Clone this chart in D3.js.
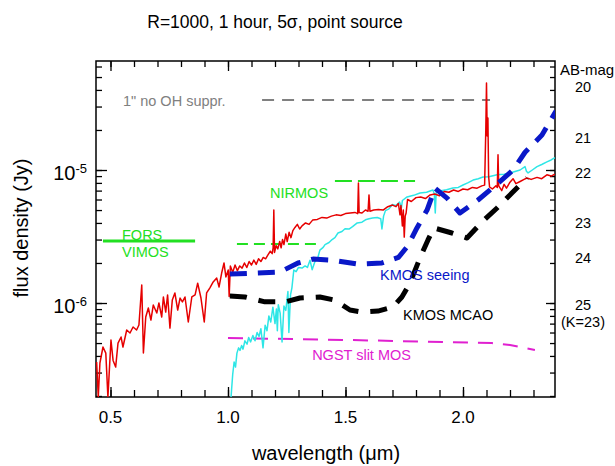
<!DOCTYPE html>
<meta charset="utf-8">
<style>
  body { margin: 0; background: #fff; }
  text { font-family: "Liberation Sans", Arial, sans-serif; }
</style>
<div id="chart"></div>
<script src="https://d3js.org/d3.v7.min.js"></script>
<script>
// fluxes in the series below are in micro-Jansky
const UJY = 1e-6;

const xTickLabels = [0.5, 1.0, 1.5, 2.0];
const yTickLabels = [1e-6, 1e-5];
const abMagLabels = ["20", "21", "22", "23", "24", "25"];
const abMagFlux = [42, 17.4, 9.5, 4.0, 2.18, 0.97];

// [wavelength (um), flux (uJy)]
const redSpec = [
  [0.441,0.36],[0.448,0.197],[0.455,0.354],[0.468,0.467],[0.480,0.42],[0.489,0.196],[0.502,0.527],
  [0.511,0.37],[0.522,0.33],[0.532,0.50],[0.545,0.555],[0.553,0.467],[0.569,0.627],[0.583,0.595],
  [0.596,0.66],[0.611,0.627],[0.621,0.683],[0.633,1.366],[0.640,0.421],[0.650,0.785],[0.661,0.917],
  [0.672,0.745],[0.682,0.966],[0.697,0.841],[0.706,1.0],[0.718,0.785],[0.725,1.11],[0.735,0.855],
  [0.743,1.15],[0.753,0.648],[0.763,1.053],[0.774,1.19],[0.786,0.886],[0.796,1.09],[0.806,1.02],
  [0.817,1.11],[0.831,0.72],[0.846,1.11],[0.860,1.15],[0.871,1.41],[0.885,1.09],[0.899,0.72],
  [0.909,1.19],[0.923,1.30],[0.937,1.44],[0.952,1.54],[0.962,1.32],[0.973,1.68],[0.983,2.0],
  [0.991,1.57],[1.001,1.77],[1.005,1.12],[1.010,1.90],[1.020,1.70],[1.030,1.93],[1.040,1.75],
  [1.050,1.90],[1.060,1.83],[1.070,2.0],[1.080,1.85],[1.090,2.05],[1.100,1.93],[1.110,2.10],
  [1.120,1.95],[1.130,2.15],[1.140,2.05],[1.150,2.2],[1.160,2.15],[1.170,2.3],[1.180,2.45],
  [1.188,2.35],[1.192,2.6],[1.195,5.0],[1.198,2.4],[1.205,2.7],[1.212,2.55],[1.220,2.9],
  [1.226,2.6],[1.232,3.0],[1.238,2.75],[1.246,3.3],[1.252,2.9],[1.260,3.4],[1.268,3.1],
  [1.276,3.5],[1.285,3.7],[1.295,3.9],[1.305,3.6],[1.315,3.8],[1.330,4.0],[1.345,3.9],
  [1.360,4.2],[1.380,4.25],[1.400,4.4],[1.420,4.35],[1.440,4.5],[1.460,4.6],[1.480,4.55],
  [1.500,4.7],[1.520,4.75],[1.540,4.8],[1.552,4.7],[1.555,8.0],[1.558,4.8],[1.570,4.75],
  [1.585,5.0],[1.596,4.9],[1.600,6.5],[1.604,4.9],[1.620,5.0],[1.640,5.05],[1.660,5.0],
  [1.680,5.3],[1.700,5.45],[1.715,5.3],[1.725,5.6],[1.732,4.6],[1.736,5.4],[1.742,3.8],
  [1.746,5.0],[1.750,3.13],[1.754,4.5],[1.758,4.75],[1.764,6.0],[1.780,5.8],[1.800,6.2],
  [1.820,6.27],[1.840,6.1],[1.860,6.5],[1.880,6.6],[1.900,6.4],[1.920,6.9],[1.940,6.8],
  [1.960,7.07],[1.980,6.9],[2.000,7.2],[2.020,7.1],[2.040,7.4],[2.060,7.3],[2.080,7.6],
  [2.092,7.7],[2.097,20],[2.100,45],[2.103,18],[2.106,24.6],[2.109,9],[2.113,7.45],
  [2.125,7.2],[2.140,7.6],[2.146,7.4],[2.149,13],[2.152,7.6],[2.165,7.0],[2.175,7.8],
  [2.185,7.3],[2.200,8.1],[2.213,8.6],[2.225,7.9],[2.243,8.2],[2.260,8.5],[2.272,8.7],
  [2.290,8.5],[2.315,8.8],[2.335,8.6],[2.357,9.2],[2.375,9.0],[2.391,9.3]
];

const cyanSpec = [
  [1.008,0.15],[1.015,0.22],[1.020,0.29],[1.026,0.36],[1.032,0.33],[1.038,0.42],[1.045,0.46],
  [1.051,0.44],[1.058,0.48],[1.064,0.45],[1.072,0.52],[1.081,0.49],[1.088,0.55],[1.096,0.51],
  [1.106,0.57],[1.115,0.52],[1.124,0.60],[1.132,0.56],[1.140,0.64],[1.149,0.46],[1.158,0.68],
  [1.166,0.62],[1.174,0.80],[1.182,0.72],[1.191,0.93],[1.200,0.70],[1.206,0.90],[1.210,0.62],
  [1.214,0.97],[1.222,0.84],[1.230,0.51],[1.238,0.95],[1.246,0.88],[1.255,1.22],[1.259,0.60],
  [1.266,1.15],[1.272,1.30],[1.280,1.77],[1.290,1.72],[1.300,1.85],[1.315,1.83],[1.328,1.90],
  [1.338,1.85],[1.349,2.10],[1.358,1.78],[1.370,2.05],[1.380,2.12],[1.391,2.50],[1.405,2.62],
  [1.413,2.75],[1.430,2.85],[1.443,3.0],[1.455,3.1],[1.468,3.36],[1.485,3.45],[1.498,3.62],
  [1.515,3.6],[1.530,3.75],[1.550,4.0],[1.570,4.05],[1.585,4.22],[1.600,4.3],[1.615,4.36],
  [1.635,4.4],[1.650,4.3],[1.655,3.6],[1.662,4.5],[1.670,4.95],[1.685,5.1],[1.700,5.5],
  [1.715,5.4],[1.730,5.75],[1.738,5.2],[1.742,5.9],[1.762,6.27],[1.790,6.45],[1.817,6.72],
  [1.845,6.8],[1.872,7.07],[1.878,6.6],[1.882,4.75],[1.886,6.8],[1.900,6.95],[1.930,7.1],
  [1.957,7.32],[1.980,7.4],[2.000,7.71],[2.020,8.0],[2.043,8.4],[2.065,8.6],[2.085,8.86],
  [2.110,8.9],[2.145,9.2],[2.175,9.3],[2.200,9.5],[2.225,9.8],[2.243,10.0],[2.264,10.6],
  [2.270,9.8],[2.277,9.5],[2.295,10.0],[2.315,10.6],[2.335,11.0],[2.357,11.5],[2.375,11.9],
  [2.391,12.4]
];

const kmosSeeing = [
  [1.008,1.65],[1.221,1.71],[1.298,2.0],[1.362,2.14],[1.443,2.10],[1.553,1.96],[1.655,2.0],
  [1.725,2.2],[1.766,2.7],[1.804,3.67],[1.847,5.0],[1.881,7.3],[1.932,6.15],[1.987,4.75],
  [2.064,5.95],[2.136,7.6],[2.213,10.0],[2.264,13.6],[2.336,18.3],[2.396,27.8]
];

const kmosMcao = [
  [1.008,1.13],[1.072,1.11],[1.157,1.02],[1.243,1.02],[1.306,1.09],[1.391,1.11],[1.455,1.05],
  [1.519,0.886],[1.570,0.855],[1.638,0.87],[1.702,0.933],[1.740,1.11],[1.774,1.41],[1.817,2.18],
  [1.851,2.98],[1.876,3.67],[1.953,3.36],[2.017,3.08],[2.081,4.07],[2.145,5.18],[2.208,6.71],
  [2.272,8.7]
];

const ngstMos = [[1.0,0.545],[1.519,0.527],[2.123,0.50],[2.2,0.483],[2.306,0.444]];
const noOhSuppr = [[1.145,33.6],[2.115,33.6]];
const forsVimos = [[0.468,2.92],[0.86,2.92]];
const nirmosJ = [[1.038,2.78],[1.378,2.78]];
const nirmosH = [[1.455,8.26],[1.796,8.26]];

let margin = {top: 61, right: 60, bottom: 69, left: 96},
    width = 615,
    height = 466,
    w = width - margin.left - margin.right,
    h = height - margin.top - margin.bottom;

let svg = d3.select("#chart")
  .append("svg")
    .attr("width", width)
    .attr("height", height);

let g = svg.append("g")
    .attr("transform", "translate(" + margin.left + "," + margin.top + ")");

let x = d3.scaleLinear().domain([0.4383, 2.3915]).range([0, w]);
let y = d3.scaleLog().domain([1.965e-7, 6.6e-5]).range([h, 0]);

svg.append("defs").append("clipPath").attr("id", "plotclip")
  .append("rect").attr("width", w).attr("height", h);

// ticks
let xMinor = d3.range(5, 24).map(i => i / 10);
let yMinor = [];
[-7, -6, -5].forEach(e => {
  for (let m = 1; m < 10; m++) {
    let v = m * Math.pow(10, e);
    if (v >= y.domain()[0] && v <= y.domain()[1]) yMinor.push(v);
  }
});

function tickAxis(axis, transform) {
  let a = g.append("g").attr("transform", transform).call(axis);
  a.select(".domain").remove();
  a.selectAll("line").attr("stroke", "#000").attr("stroke-width", 1.3);
  a.selectAll("text").remove();
}
tickAxis(d3.axisBottom(x).tickValues(xMinor).tickSize(-7), "translate(0," + h + ")");
tickAxis(d3.axisBottom(x).tickValues(xTickLabels).tickSize(-10), "translate(0," + h + ")");
tickAxis(d3.axisTop(x).tickValues(xMinor).tickSize(-6), "translate(0,0)");
tickAxis(d3.axisTop(x).tickValues(xTickLabels).tickSize(-10), "translate(0,0)");
tickAxis(d3.axisLeft(y).tickValues(yMinor).tickSize(-6), "translate(0,0)");
tickAxis(d3.axisLeft(y).tickValues(yTickLabels).tickSize(-11), "translate(0,0)");
tickAxis(d3.axisRight(y).tickValues(yMinor).tickSize(-5), "translate(" + w + ",0)");
tickAxis(d3.axisRight(y).tickValues(yTickLabels).tickSize(-9), "translate(" + w + ",0)");

// frame
g.append("rect")
    .attr("width", w).attr("height", h)
    .attr("fill", "none").attr("stroke", "#000").attr("stroke-width", 1.5);

// tick labels
g.selectAll(".xlab").data(xTickLabels).enter().append("text")
    .attr("x", d => x(d)).attr("y", h + 26)
    .attr("text-anchor", "middle").attr("font-size", 17)
    .text(d => d.toFixed(1));

let ylab = g.selectAll(".ylab").data(yTickLabels).enter().append("text")
    .attr("x", -9).attr("y", d => y(d) + 10)
    .attr("text-anchor", "end").attr("font-size", 20);
ylab.append("tspan").text("10");
ylab.append("tspan").attr("dy", -7).attr("font-size", 13)
    .text(d => "-" + Math.round(-Math.log10(d)));

// AB-mag labels
g.append("text").attr("x", w + 32).attr("y", y(56.5 * UJY)).attr("dy", "0.35em")
    .attr("text-anchor", "middle").attr("font-size", 15).text("AB-mag");
g.selectAll(".ab").data(abMagLabels).enter().append("text")
    .attr("x", w + 28).attr("y", (d, i) => y(abMagFlux[i] * UJY)).attr("dy", "0.35em")
    .attr("text-anchor", "middle").attr("font-size", 14.5).text(d => d);
g.append("text").attr("x", w + 28).attr("y", y(0.72 * UJY)).attr("dy", "0.35em")
    .attr("text-anchor", "middle").attr("font-size", 14.5).text("(K=23)");

// titles
svg.append("text").attr("x", 275).attr("y", 28)
    .attr("text-anchor", "middle").attr("font-size", 17.5)
    .text("R=1000, 1 hour, 5\u03c3, point source");
svg.append("text").attr("x", 326).attr("y", 460)
    .attr("text-anchor", "middle").attr("font-size", 20)
    .text("wavelength (\u03bcm)");
svg.append("text").attr("transform", "translate(28,228) rotate(-90)")
    .attr("text-anchor", "middle").attr("font-size", 20)
    .text("flux density (Jy)");

// lines
let line = d3.line().x(d => x(d[0])).y(d => y(d[1] * UJY));
let plot = g.append("g").attr("clip-path", "url(#plotclip)");

function drawLine(data, color, sw, dash) {
  plot.append("path").datum(data)
    .attr("d", line)
    .attr("fill", "none")
    .attr("stroke", color)
    .attr("stroke-width", sw)
    .attr("stroke-linejoin", "round")
    .attr("stroke-dasharray", dash || null);
}

drawLine(noOhSuppr, "#808080", 1.8, "12,8");
drawLine(forsVimos, "#22e022", 3);
drawLine(nirmosJ, "#22e022", 2, "11,6");
drawLine(nirmosH, "#22e022", 2, "17,6");
drawLine(ngstMos, "#e020d0", 2, "15,10");
drawLine(cyanSpec, "#2ee6e6", 1.5);
drawLine(redSpec, "#e60000", 1.5);
drawLine(kmosMcao, "#000", 5, "17,12");
drawLine(kmosSeeing, "#0a18c8", 5, "17,11");

// annotations
function note(txt, lam, flux, color) {
  g.append("text").attr("x", x(lam)).attr("y", y(flux * UJY))
    .attr("font-size", 14.5).attr("fill", color).text(txt);
}
note("1\" no OH suppr.", 0.553, 30.3, "#808080");
note("FORS", 0.549, 3.0, "#22e022");
note("VIMOS", 0.549, 2.22, "#22e022");
note("NIRMOS", 1.179, 6.16, "#22e022");
note("KMOS seeing", 1.647, 1.489, "#0a18c8");
note("KMOS MCAO", 1.745, 0.745, "#000");
note("NGST slit MOS", 1.358, 0.37, "#e020d0");
</script>
